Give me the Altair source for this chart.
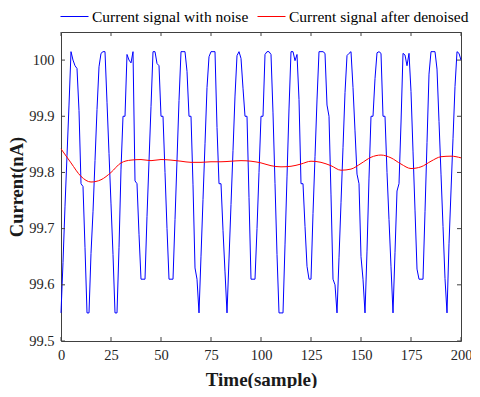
import altair as alt
import pandas as pd

# ---------------- data ----------------
noisy = [
    99.55, 99.64, 99.74, 99.83, 99.92, 100.015, 100.0, 99.99, 99.985, 99.91,
    99.78, 99.775, 99.666, 99.55, 99.55, 99.656, 99.73, 99.821, 99.912, 99.988,
    100.012, 100.015, 100.015, 99.925, 99.834, 99.744, 99.654, 99.55, 99.55, 99.666,
    99.806, 99.9, 99.9, 100.01, 100.0, 99.995, 100.015, 99.785, 99.78, 99.69,
    99.61, 99.61, 99.61, 99.722, 99.82, 99.917, 100.015, 100.015, 99.994, 99.99,
    99.9, 99.9, 99.80, 99.70, 99.61, 99.61, 99.61, 99.716, 99.822, 99.928,
    100.015, 100.015, 100.015, 99.98, 99.9, 99.9, 99.778, 99.63, 99.61, 99.55,
    99.651, 99.752, 99.851, 99.951, 100.006, 100.015, 100.015, 100.015, 99.88, 99.78,
    99.78, 99.697, 99.623, 99.55, 99.646, 99.743, 99.839, 99.936, 100.008, 100.015,
    100.003, 99.95, 99.9, 99.9, 99.755, 99.61, 99.61, 99.61, 99.70, 99.80,
    99.9, 99.9, 100.01, 100.015, 100.015, 100.01, 99.906, 99.78, 99.654, 99.55,
    99.55, 99.55, 99.671, 99.792, 99.913, 100.015, 100.015, 99.999, 100.01, 99.93,
    99.78, 99.78, 99.704, 99.633, 99.61, 99.61, 99.727, 99.828, 99.929, 100.015,
    100.015, 100.015, 100.012, 99.92, 99.9, 99.76, 99.61, 99.6, 99.55, 99.648,
    99.746, 99.844, 99.942, 100.008, 100.012, 100.015, 99.951, 99.874, 99.797, 99.78,
    99.65, 99.61, 99.55, 99.66, 99.79, 99.9, 99.9, 99.967, 100.013, 100.015,
    100.012, 99.9, 99.9, 99.8, 99.716, 99.632, 99.55, 99.658, 99.767, 99.78,
    99.888, 100.012, 100.009, 99.99, 100.012, 99.944, 99.838, 99.733, 99.628, 99.61,
    99.61, 99.61, 99.73, 99.853, 99.975, 100.015, 100.015, 100.015, 99.984, 99.891,
    99.797, 99.704, 99.611, 99.55, 99.673, 99.767, 99.86, 99.953, 100.015, 100.012,
    100.0,
]
samples = list(range(len(noisy)))

den_t = [0, 5, 10, 15, 20, 25, 30, 35, 40, 45, 50, 55, 60, 65, 70, 75, 80, 85, 90, 95,
         100, 105, 110, 115, 120, 125, 130, 135, 140, 145, 150, 155, 160, 165, 170, 175,
         180, 185, 190, 195, 200]
den_v = [99.842, 99.817, 99.793, 99.783, 99.787, 99.800, 99.817, 99.822, 99.823, 99.821,
         99.823, 99.822, 99.820, 99.818, 99.818, 99.819, 99.819, 99.820, 99.821, 99.820,
         99.817, 99.812, 99.810, 99.811, 99.815, 99.820, 99.818, 99.812, 99.804, 99.806,
         99.816, 99.827, 99.831, 99.826, 99.815, 99.807, 99.810, 99.820, 99.828, 99.829,
         99.826]

x_ticks = [0, 25, 50, 75, 100, 125, 150, 175, 200]
y_ticks = [99.5, 99.6, 99.7, 99.8, 99.9, 100]
series = ["Current signal with noise", "Current signal after denoised"]
colors = ["#0000ff", "#ff0000"]

# ---------------- chart ----------------
W, H = 400, 309
FONT = "Liberation Serif"
FRAME = "#404040"
TXT = "#262626"

df_noisy = pd.DataFrame({"t": samples, "v": noisy, "series": series[0]})
df_den = pd.DataFrame({"t": den_t, "v": den_v, "series": series[1]})
df_xt = pd.DataFrame({"t": x_ticks})
df_yt = pd.DataFrame({"v": y_ticks})

xs = alt.Scale(domain=[0, 200], nice=False, zero=False)
ys = alt.Scale(domain=[99.5, 100.05], nice=False, zero=False)

x_axis = alt.Axis(values=x_ticks, ticks=False, tickSize=0, domain=False, grid=False,
                  labelFont=FONT, labelFontSize=14.5, labelColor=TXT, labelPadding=7,
                  labelFlush=False, labelOverlap=False,
                  title="Time(sample)", titleFont=FONT, titleFontSize=19,
                  titleFontWeight="bold", titleColor="#1a1a1a", titleY=38,
                  titleBaseline="middle")
y_axis = alt.Axis(values=y_ticks, ticks=False, tickSize=0, domain=False, grid=False,
                  labelFont=FONT, labelFontSize=14.5, labelColor=TXT, labelPadding=7,
                  labelFlush=False, labelOverlap=False,
                  labelExpr="datum.value == 100 ? '100' : format(datum.value, '.1f')",
                  title="Current(nA)", titleFont=FONT, titleFontSize=18.5,
                  titleFontWeight="bold", titleColor="#1a1a1a", titleX=-45,
                  titleBaseline="middle", titleAngle=270)

color = alt.Color(
    "series:N",
    scale=alt.Scale(domain=series, range=colors),
    legend=alt.Legend(orient="none", legendX=-1, legendY=-30, direction="horizontal",
                      title=None, symbolType="stroke", symbolSize=784,
                      symbolStrokeWidth=1, labelFont=FONT, labelFontSize=15.5,
                      labelColor="#000000", labelOffset=3, columnPadding=6,
                      labelLimit=400, padding=0, rowPadding=0),
)

noisy_line = alt.Chart(df_noisy).mark_line(strokeWidth=1).encode(
    x=alt.X("t:Q", scale=xs, axis=x_axis),
    y=alt.Y("v:Q", scale=ys, axis=y_axis),
    color=color,
)
den_line = alt.Chart(df_den).mark_line(strokeWidth=1, interpolate="monotone").encode(
    x=alt.X("t:Q", scale=xs),
    y=alt.Y("v:Q", scale=ys),
    color=color,
)

tick_len = 4
bottom_ticks = alt.Chart(df_xt).mark_rule(color=FRAME, strokeWidth=1).encode(
    x=alt.X("t:Q", scale=xs), y=alt.value(H), y2=alt.value(H - tick_len))
top_ticks = alt.Chart(df_xt).mark_rule(color=FRAME, strokeWidth=1).encode(
    x=alt.X("t:Q", scale=xs), y=alt.value(0), y2=alt.value(tick_len))
left_ticks = alt.Chart(df_yt).mark_rule(color=FRAME, strokeWidth=1).encode(
    y=alt.Y("v:Q", scale=ys), x=alt.value(0), x2=alt.value(tick_len))
right_ticks = alt.Chart(df_yt).mark_rule(color=FRAME, strokeWidth=1).encode(
    y=alt.Y("v:Q", scale=ys), x=alt.value(W), x2=alt.value(W - tick_len))

chart = alt.layer(
    noisy_line, den_line, bottom_ticks, top_ticks, left_ticks, right_ticks
).properties(
    width=W, height=H,
    autosize=alt.AutoSizeParams(type="none"),
    padding={"left": 53, "top": 24, "right": 10, "bottom": 47},
    background="white",
).configure_view(stroke=FRAME, strokeWidth=1)

chart.save("out.html", embed_options={"renderer": "svg", "actions": False})
